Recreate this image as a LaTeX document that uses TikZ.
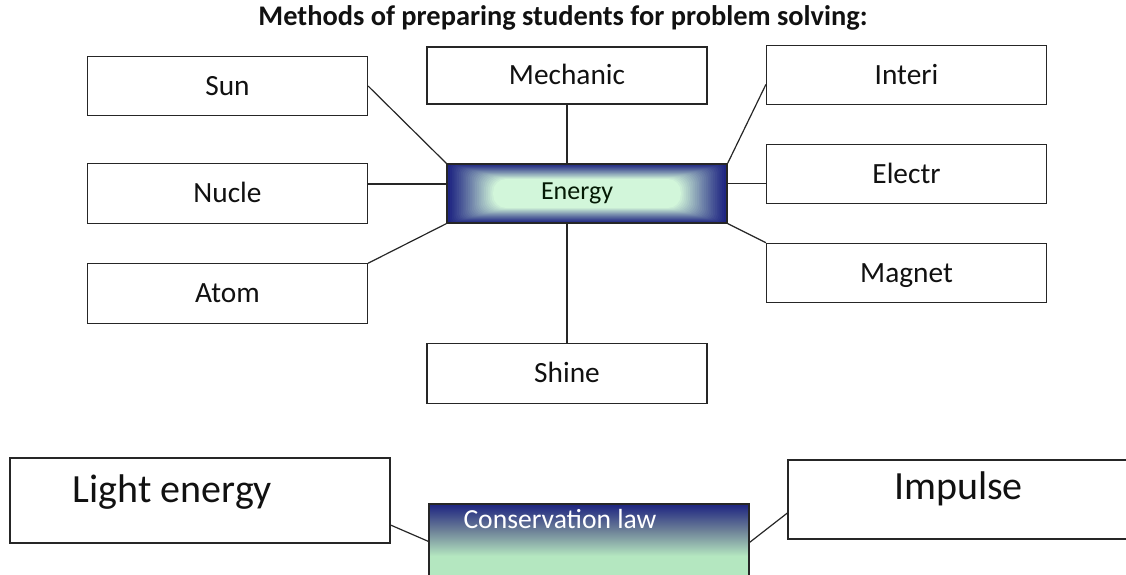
\documentclass[tikz,border=0pt]{standalone}
\usepackage{fontspec}
\setmainfont{Carlito}
\usetikzlibrary{calc}
\pgfdeclarelayer{bg}
\pgfsetlayers{bg,main}
\definecolor{navy}{HTML}{1B2180}
\definecolor{mint}{HTML}{D2F6DA}
\definecolor{slate}{HTML}{6E8298}
\definecolor{cmint}{HTML}{B4E7C0}
\definecolor{edge}{HTML}{262626}
\definecolor{ink}{HTML}{111111}
% vertical blend for the lower central box (stops inside the 25--75bp fitting band)
\pgfdeclareverticalshading{consv}{100bp}{color(0bp)=(cmint); color(48bp)=(cmint); color(61bp)=(slate); color(75bp)=(navy); color(100bp)=(navy)}
\begin{document}
\begin{tikzpicture}[x=0.75pt,y=-0.75pt,
  box/.style={draw=edge,line width=0.9pt,fill=white,inner sep=0pt,
    minimum width=210pt,minimum height=44.5pt,text=ink,
    font=\fontsize{22}{26}\selectfont,text height=14.2pt,text depth=0pt},
  bigtxt/.style={inner sep=0pt,text=ink,font=\fontsize{30}{34}\selectfont,
    text height=19.3pt,text depth=0pt},
  link/.style={draw=edge,line width=0.9pt}]
\useasboundingbox (0,0) rectangle (1126,574);

% title
\node[inner sep=0pt,text=ink,font=\bfseries\fontsize{21.3}{24}\selectfont,
  text height=13.7pt,text depth=0pt] (title) at (563,16)
  {Methods of preparing students for problem solving:};

% central node
\node[draw=edge,line width=0.9pt,inner sep=0pt,minimum width=210pt,
  minimum height=44.25pt] (en) at (587,193.5) {};
\node[inner sep=0pt,text=ink!80!green!40!black,font=\fontsize{19.5}{22}\selectfont,
  text height=12.6pt,text depth=0pt] (enlbl) at (577,191) {Energy};
\begin{pgfonlayer}{bg}
  \foreach \i in {0,...,26}{
    \pgfmathsetmacro\p{100*(\i/26)^1.15}
    \fill[mint!\p!navy,rounded corners=2pt+\i*0.3pt]
      ($(en.south west)+(\i*1.8,-\i*0.6)$) rectangle
      ($(en.north east)+(-\i*1.8,\i*0.6)$);
  }
\end{pgfonlayer}

% surrounding boxes
\node[box] (sun)   at (227.5,86)    {Sun};
\node[box] (nuc)   at (227.5,193.5) {Nucle};
\node[box] (atom)  at (227.5,293.5) {Atom};
\node[box,minimum height=42.75pt] (mech) at (567,75.5) {Mechanic};
\node[box,minimum height=44.25pt] (inter) at (906.5,75) {Interi};
\node[box] (el)    at (906.5,174)   {Electr};
\node[box] (mag)   at (906.5,273)   {Magnet};
\node[box,minimum height=45pt] (shine) at (567,373.5) {Shine};

% spokes
\draw[link] (sun.east) -- (en.north west);
\draw[link] ([yshift=7.1pt]nuc.east) -- ([yshift=7.1pt]nuc.east -| en.west);
\draw[link] (atom.north east) -- (en.south west);
\draw[link] (mech.south) -- (mech.south |- en.north);
\draw[link] ([yshift=-7.1pt]inter.west) -- (en.north east);
\draw[link] ([yshift=-7.1pt]el.west -| en.east) -- ([yshift=-7.1pt]el.west);
\draw[link] (en.south east) -- (mag.north west);
\draw[link] (shine.north) -- (shine.north |- en.south);

% lower row
\node[draw=edge,line width=0.9pt,inner sep=0pt,minimum width=285pt,
  minimum height=63.75pt] (le) at (200,500.5) {};
\node[bigtxt] (letxt) at (172.5,490) {Light energy};

\node[draw=edge,line width=0.9pt,inner sep=0pt,minimum width=240pt,
  minimum height=72pt] (cons) at (589,552) {};
\begin{pgfonlayer}{bg}
  \shade[shading=consv] (cons.north west) rectangle (cons.south east);
\end{pgfonlayer}
\node[inner sep=0pt,text=white,font=\fontsize{20.7}{24}\selectfont,
  text height=13.3pt,text depth=0pt] (constxt) at (560,520) {Conservation law};

\node[draw=edge,line width=0.9pt,inner sep=0pt,minimum width=264pt,
  minimum height=59.25pt] (imp) at (964,499.5) {};
\node[bigtxt] (imptxt) at (958.5,486.5) {Impulse};

\draw[link] ([yshift=-18.4pt]le.east) -- ($(cons.north west)+(0,38)$);
\draw[link] ([yshift=-10.1pt]imp.west) -- ($(cons.north east)+(0,39)$);
\end{tikzpicture}
\end{document}
